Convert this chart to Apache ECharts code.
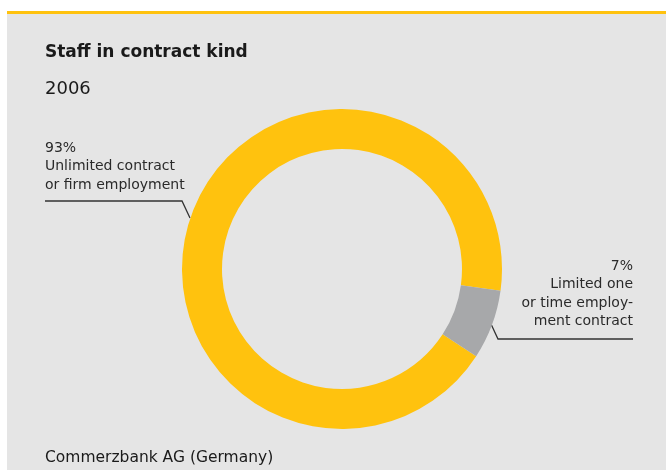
<!DOCTYPE html>
<html>
<head>
  <title>Staff in contract kind</title>
  <script src="https://cdn.jsdelivr.net/npm/echarts@6/dist/echarts.min.js"></script>
  <style>
    html, body { margin: 0; padding: 0; background: #fff; }
    #main { width: 666px; height: 470px; }
  </style>
</head>
<body>
  <div id="main"></div>
  <script>
    // data
    var categories = ['Unlimited contract\nor firm employment', 'Limited one\nor time employ-\nment contract'];
    var shares = [93, 7];
    var colors = ['#ffc20e', '#a7a8aa'];

    var font = '"DejaVu Sans", "Liberation Sans", sans-serif';
    var myChart = echarts.init(document.getElementById('main'));

    // where each label sits and how its leader line runs
    var labelPos = [
      { x: 45, y: 139, align: 'left', line: [[190, 218], [182, 201], [45, 201]] },
      { x: 633, y: 257, align: 'right', line: [[491, 324], [498, 339], [633, 339]] }
    ];

    var option = {
      backgroundColor: '#fff',
      animation: false,
      graphic: [
        { type: 'rect', z: -10, shape: { x: 7, y: 14, width: 659, height: 456 }, style: { fill: '#e5e5e5' } },
        { type: 'rect', z: -10, shape: { x: 7, y: 11, width: 659, height: 3 }, style: { fill: '#ffc20e' } },
        { type: 'text', left: 45, top: 35, style: { text: 'Staff in contract kind', font: 'bold 17px ' + font, fill: '#1a1a1a' } },
        { type: 'text', left: 45, top: 71, style: { text: '2006', font: '18px ' + font, fill: '#1a1a1a' } },
        { type: 'text', left: 45, top: 443, style: { text: 'Commerzbank AG (Germany)', font: '15.5px ' + font, fill: '#1a1a1a' } }
      ],
      series: [{
        type: 'pie',
        silent: true,
        center: [342, 269],
        radius: [120, 160],
        startAngle: -33,
        clockwise: true,
        data: categories.map(function (c, i) {
          return { name: c, value: shares[i], itemStyle: { color: colors[i] } };
        }),
        label: {
          show: true,
          position: 'outside',
          overflow: 'none',
          formatter: function (p) { return p.value + '%\n' + p.name; },
          fontFamily: font,
          fontSize: 14,
          lineHeight: 18.5,
          color: '#2a2a2a'
        },
        labelLine: {
          show: true,
          lineStyle: { color: '#333', width: 1.3 }
        },
        labelLayout: function (params) {
          var l = labelPos[params.dataIndex];
          return {
            x: l.x,
            y: l.y,
            align: l.align,
            verticalAlign: 'top',
            labelLinePoints: l.line
          };
        }
      }]
    };
    myChart.setOption(option);
  </script>
</body>
</html>
